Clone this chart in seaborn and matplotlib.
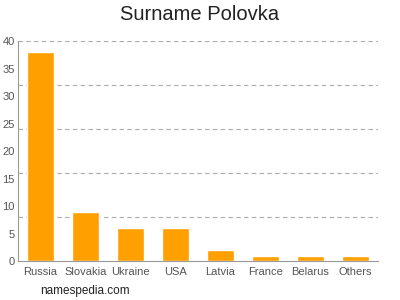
import matplotlib
matplotlib.use("Agg")
import matplotlib.pyplot as plt
import seaborn as sns
import pandas as pd

countries = ["Russia", "Slovakia", "Ukraine", "USA", "Latvia", "France", "Belarus", "Others"]
counts = [38, 9, 6, 6, 2, 1, 1, 1]
yticks = [0, 5, 10, 15, 20, 25, 30, 35, 40]
gridlines = [8, 16, 24, 32, 40]

sns.set_style("white")
plt.rcParams['font.family'] = ['Liberation Sans', 'DejaVu Sans']

df = pd.DataFrame({"country": countries, "count": counts})
fig = plt.figure(figsize=(4, 3), dpi=100)
ax = fig.add_axes([0.045, 0.13, 0.9, 0.733])
sns.barplot(data=df, x="country", y="count", color="#FFA000", saturation=1, width=0.62, ax=ax)
for g in gridlines:
    ax.axhline(g, color="#aaaaaa", lw=0.8, ls=(0, (4, 3)), zorder=0)
ax.set_ylim(0, 40)
ax.set_xlim(-0.5, len(countries) - 0.5)
ax.set_yticks(yticks)
ax.set_xlabel("")
ax.set_ylabel("")
for s in ["top", "right"]:
    ax.spines[s].set_visible(False)
for s in ["left", "bottom"]:
    ax.spines[s].set_color("#999999")
    ax.spines[s].set_linewidth(0.8)
ax.tick_params(axis="both", colors="#999999", labelcolor="#555555", labelsize=8, length=2, width=0.8, pad=0.5)
ax.tick_params(axis="x", pad=2)
ax.set_axisbelow(True)
fig.text(0.5, 0.95, "Surname Polovka", ha="center", va="center", fontsize=14.5, color="#222222")
fig.text(0.1, 0.03, "namespedia.com", ha="left", va="center", fontsize=8.5, color="#222222")
fig.savefig("out.png", dpi=100)
